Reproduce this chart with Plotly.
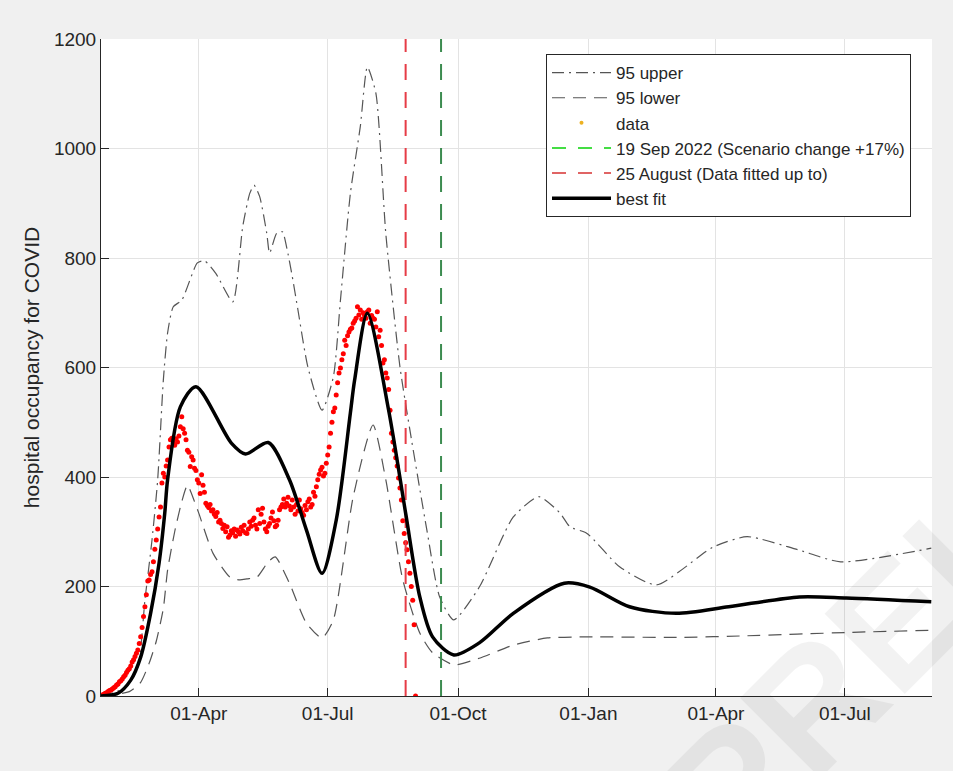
import plotly.graph_objects as go
import pandas as pd

# ---------------- data ----------------
data_start = "2022-01-22"
data_values = [
    0, 2, 3, 5, 6, 8, 10, 11, 13, 15,
    17, 20, 22, 26, 28, 31, 35, 38, 43, 47,
    50, 55, 62, 66, 72, 78, 84, 96, 108, 125,
    145, 163, 185, 210, 212, 222, 227, 245, 268, 285,
    305, 327, 345, 389, 407, 400, 420, 431, 455, 468,
    471, 462, 458, 470, 464, 475, 492, 510, 488, 480,
    468, 449, 445, 419, 437, 431, 416, 412, 395, 389,
    370, 404, 385, 372, 352, 348, 344, 350, 338, 340,
    332, 328, 335, 318, 321, 315, 306, 312, 300, 309,
    290, 294, 302, 298, 305, 292, 303, 300, 296, 308,
    302, 312, 298, 297, 305, 318, 310, 321, 325, 312,
    305, 340, 315, 332, 343, 318, 305, 300, 310, 315,
    325, 336, 320, 309, 312, 321, 340, 345, 350, 360,
    345, 352, 363, 347, 340, 358, 345, 332, 350, 338,
    358, 342, 335, 330, 348, 340, 355, 360, 345, 350,
    372, 365, 382, 395, 405, 413, 418, 402, 407, 425,
    440, 455, 480, 500, 519, 526, 550, 572, 590, 599,
    614, 625, 650, 640, 658, 665, 670, 672, 681, 685,
    690, 711, 696, 705, 688, 700, 695, 690, 702, 705,
    681, 695, 690, 688, 674, 702, 656, 668, 640, 608,
    614, 590, 581, 560, 522, 480, 464, 449, 435, 420,
    398, 380, 358, 320, 297, 280, 267, 245, 224, 200,
    175, 130, 0,
]
data_dates = pd.date_range(data_start, periods=len(data_values), freq="D")

fit_dates = [
    "2022-01-22", "2022-02-03", "2022-02-12", "2022-02-19", "2022-02-26",
    "2022-03-04", "2022-03-08", "2022-03-10", "2022-03-19", "2022-03-30",
    "2022-04-24", "2022-05-04", "2022-05-20", "2022-06-04", "2022-06-16",
    "2022-06-27", "2022-07-07", "2022-07-17", "2022-07-20", "2022-07-29",
    "2022-08-13", "2022-08-25", "2022-09-04", "2022-09-13", "2022-09-28",
    "2022-10-16", "2022-11-09", "2022-12-15", "2023-01-02", "2023-01-30",
    "2023-03-04", "2023-04-10", "2023-05-30", "2023-07-02", "2023-08-31",
]
fit_values = [
    0, 5, 29, 71, 151,
    243, 334, 395, 528, 565,
    462, 442, 463, 395, 303,
    224, 321, 517, 577, 699,
    522, 334, 181, 108, 75,
    97, 151, 206, 199, 163,
    151, 163, 181, 179, 172,
]

upper_dates = [
    "2022-01-22", "2022-02-08", "2022-02-17", "2022-02-22", "2022-02-27",
    "2022-03-03", "2022-03-07", "2022-03-10", "2022-03-14", "2022-03-20",
    "2022-03-31", "2022-04-05", "2022-04-13", "2022-04-25", "2022-05-02",
    "2022-05-07", "2022-05-10", "2022-05-14", "2022-05-19", "2022-05-21",
    "2022-05-26", "2022-05-30", "2022-06-02", "2022-06-06", "2022-06-10",
    "2022-06-17", "2022-06-27", "2022-07-05", "2022-07-10", "2022-07-17",
    "2022-07-24", "2022-07-29", "2022-08-04", "2022-08-11", "2022-08-21",
    "2022-08-28", "2022-09-09", "2022-09-18", "2022-09-28", "2022-10-16",
    "2022-11-09", "2022-11-27", "2022-12-12", "2022-12-19", "2022-12-31",
    "2023-01-23", "2023-02-18", "2023-03-30", "2023-04-23", "2023-05-29",
    "2023-06-28", "2023-08-31",
]
upper_values = [
    0, 15, 53, 175, 285,
    395, 577, 663, 711, 723,
    791, 795, 772, 720, 857,
    918, 933, 912, 845, 809,
    845, 848, 820, 766, 705,
    601, 522, 583, 723, 918,
    1040, 1149, 1101, 845, 601,
    486, 303, 181, 139, 199,
    327, 364, 334, 309, 297,
    236, 203, 272, 291, 267,
    245, 270,
]

lower_dates = [
    "2022-01-22", "2022-02-11", "2022-02-19", "2022-02-25", "2022-03-02",
    "2022-03-07", "2022-03-10", "2022-03-15", "2022-03-20", "2022-03-24",
    "2022-03-29", "2022-04-01", "2022-04-11", "2022-04-23", "2022-04-30",
    "2022-05-05", "2022-05-12", "2022-05-20", "2022-05-25", "2022-06-04",
    "2022-06-16", "2022-06-27", "2022-07-05", "2022-07-19", "2022-08-02",
    "2022-08-11", "2022-08-23", "2022-09-04", "2022-09-13", "2022-09-28",
    "2022-10-16", "2022-11-09", "2022-12-03", "2023-01-02", "2023-03-06",
    "2023-04-23", "2023-07-02", "2023-08-31",
]
lower_values = [
    0, 8, 25, 60, 100,
    160, 230, 300, 355, 385,
    355, 334, 261, 217, 212,
    214, 217, 245, 254, 206,
    133, 106, 139, 364, 495,
    395, 212, 115, 79, 57,
    69, 93, 106, 108, 107,
    110, 116, 120,
]

fit_cutoff_date = "2022-08-25"
scenario_date = "2022-09-19"

x_tick_vals = ["2022-04-01", "2022-07-01", "2022-10-01", "2023-01-01", "2023-04-01", "2023-07-01"]
x_tick_text = ["01-Apr", "01-Jul", "01-Oct", "01-Jan", "01-Apr", "01-Jul"]
y_tick_vals = [0, 200, 400, 600, 800, 1000, 1200]

legend_names = [
    "95 upper", "95 lower", "data",
    "19 Sep 2022 (Scenario change +17%)",
    "25 August (Data fitted up to)", "best fit",
]
watermark_text = "PRELIMINARY"

# ---------------- figure ----------------
FONT = "Liberation Sans, Arial, Helvetica, sans-serif"
GRAY = "#555555"
fig = go.Figure()

fig.add_trace(go.Scatter(
    x=upper_dates, y=upper_values, mode="lines", name=legend_names[0],
    line=dict(color=GRAY, width=1.2, dash="12px,5px,2px,5px", shape="spline", smoothing=0.6),
    legendrank=1,
))
fig.add_trace(go.Scatter(
    x=lower_dates, y=lower_values, mode="lines", name=legend_names[1],
    line=dict(color=GRAY, width=1.2, dash="13px,8px", shape="spline", smoothing=0.6),
    legendrank=2,
))
fig.add_trace(go.Scatter(
    x=data_dates, y=data_values, mode="markers", showlegend=False,
    marker=dict(color="#ff0000", size=5),
))
# legend stand-in for data
fig.add_trace(go.Scatter(
    x=[None], y=[None], mode="markers", name=legend_names[2],
    marker=dict(color="#EDB120", size=4), legendrank=3,
))
# vertical lines
fig.add_trace(go.Scatter(
    x=[scenario_date, scenario_date], y=[0, 1200], mode="lines", showlegend=False,
    line=dict(color="#3c8c50", width=2, dash="16px,12px"),
))
fig.add_trace(go.Scatter(
    x=[None], y=[None], mode="lines", name=legend_names[3],
    line=dict(color="#44dd44", width=2, dash="14px,12px"), legendrank=4,
))
fig.add_trace(go.Scatter(
    x=[fit_cutoff_date, fit_cutoff_date], y=[0, 1200], mode="lines", showlegend=False,
    line=dict(color="#e63c46", width=2, dash="16px,12px"),
))
fig.add_trace(go.Scatter(
    x=[None], y=[None], mode="lines", name=legend_names[4],
    line=dict(color="#e06464", width=2, dash="14px,12px"), legendrank=5,
))
fig.add_trace(go.Scatter(
    x=fit_dates, y=fit_values, mode="lines", name=legend_names[5],
    line=dict(color="black", width=3.5, shape="spline", smoothing=0.8),
    legendrank=6,
))

fig.update_layout(
    width=953, height=771,
    margin=dict(l=101, r=21, t=39, b=75),
    paper_bgcolor="#f0f0f0",
    plot_bgcolor="white",
    font=dict(family=FONT, color="#262626", size=19),
    showlegend=True,
    legend=dict(
        x=0.5355, y=0.977, xanchor="left", yanchor="top",
        bgcolor="white", bordercolor="#262626", borderwidth=1,
        font=dict(size=17, family=FONT, color="#262626"),
        itemwidth=59, tracegroupgap=0,
    ),
    xaxis=dict(
        type="date",
        range=["2022-01-22", "2023-08-31 12:00"],
        tickvals=x_tick_vals, ticktext=x_tick_text,
        ticks="inside", ticklen=8, tickcolor="#262626",
        showline=True, linecolor="#262626", linewidth=1,
        showgrid=True, gridcolor="#e3e3e3", gridwidth=1,
        zeroline=False, mirror=False,
        tickfont=dict(size=19),
    ),
    yaxis=dict(
        range=[0, 1200],
        tickvals=y_tick_vals,
        ticks="inside", ticklen=8, tickcolor="#262626",
        showline=True, linecolor="#262626", linewidth=1,
        showgrid=True, gridcolor="#e3e3e3", gridwidth=1,
        zeroline=False,
        tickfont=dict(size=19),
        title=dict(text="hospital occupancy for COVID", font=dict(size=21), standoff=8),
    ),
)

# faint watermark (mostly outside the visible page, as in the reference)
fig.add_annotation(
    text="<b>" + watermark_text + "</b>", xref="paper", yref="paper",
    x=1.195, y=0.414, xanchor="center", yanchor="middle",
    showarrow=False, textangle=-45,
    font=dict(size=165, color="rgba(0,0,0,0.05)", family=FONT),
)

fig.write_html("out.html")
